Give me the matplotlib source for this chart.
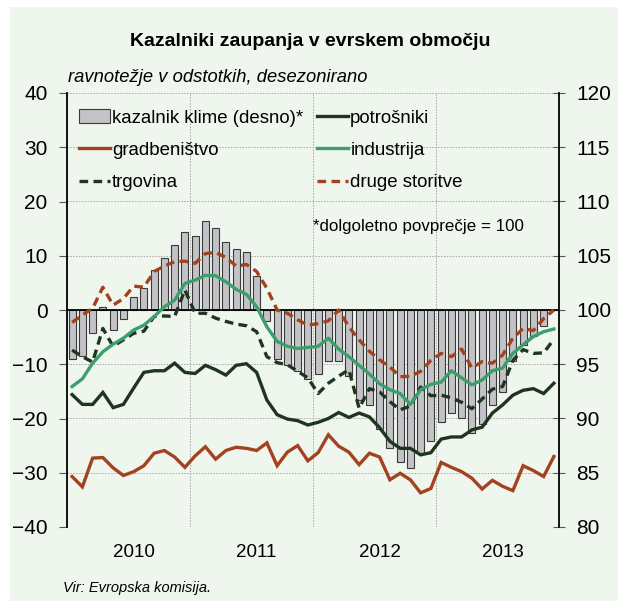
import matplotlib
matplotlib.use('Agg')
import matplotlib.pyplot as plt
from matplotlib import font_manager as fm
from matplotlib.patches import Rectangle
from matplotlib.lines import Line2D
import numpy as np

names = {f.name for f in fm.fontManager.ttflist}
FONT = 'Liberation Sans Narrow' if 'Liberation Sans Narrow' in names else 'Liberation Sans'
plt.rcParams['font.family'] = [FONT, 'DejaVu Sans']

# ---------------- data ----------------
years = ['2010', '2011', '2012', '2013']
n_months = 48

klima = [95.5, 95.8, 97.9, 100.3, 98.2, 99.2, 101.2, 102.0, 103.7, 104.75, 105.95, 107.2,
         106.8, 108.2, 107.6, 106.3, 105.6, 105.3, 103.1, 98.95, 95.5, 94.9, 94.4, 93.6,
         94.1, 95.3, 95.3, 93.9, 91.7, 91.2, 89.0, 87.3, 86.0, 85.4, 86.8, 87.9,
         89.7, 90.5, 90.0, 88.7, 89.5, 91.2, 92.4, 95.3, 96.8, 97.6, 98.5]

potrosniki = [-15.6, -17.4, -17.4, -15.2, -18.0, -17.4, -14.4, -11.5, -11.2, -11.2, -9.8, -11.5,
              -11.7, -10.2, -11.0, -12.0, -10.2, -9.9, -11.5, -16.6, -19.3, -20.1, -20.4, -21.2,
              -20.7, -20.0, -18.9, -19.8, -19.0, -19.7, -21.7, -24.2, -25.5, -25.5, -26.7, -26.3,
              -23.8, -23.4, -23.4, -22.1, -21.6, -19.0, -17.5, -15.7, -14.8, -14.5, -15.4, -13.5]

gradbenistvo = [-30.7, -32.6, -27.3, -27.2, -29.1, -30.5, -29.8, -28.7, -26.4, -25.9, -27.1, -29.0,
                -26.9, -25.2, -27.5, -25.9, -25.3, -25.5, -25.9, -24.5, -28.7, -26.2, -25.0, -27.8,
                -26.3, -23.0, -25.1, -26.2, -28.5, -26.4, -27.1, -31.3, -30.1, -31.3, -33.7, -32.9,
                -28.1, -29.0, -29.8, -31.0, -33.0, -31.4, -32.5, -33.3, -28.7, -29.6, -30.7, -27.0]

industrija = [-14.1, -12.7, -9.8, -7.7, -6.3, -5.2, -3.7, -2.8, -1.2, 0.6, 1.8, 4.9,
              5.5, 6.4, 6.3, 5.2, 3.8, 2.9, 0.6, -3.1, -5.8, -6.7, -7.1, -6.9,
              -6.7, -5.2, -7.2, -8.6, -10.2, -11.8, -13.6, -14.7, -15.4, -17.4, -14.7, -13.7,
              -13.3, -11.2, -12.5, -13.8, -12.9, -11.2, -10.7, -8.0, -6.4, -4.9, -4.0, -3.5]

trgovina = [-7.4, -8.6, -9.6, -3.4, -6.7, -5.5, -4.3, -3.9, -1.2, -1.1, -1.2, 3.7,
            -0.6, -0.6, -1.5, -2.1, -2.6, -2.9, -4.0, -8.6, -9.7, -10.1, -11.3, -12.5,
            -15.4, -13.5, -12.2, -11.0, -18.1, -14.5, -15.1, -16.9, -18.4, -17.7, -14.2, -15.8,
            -15.7, -16.2, -17.0, -18.2, -16.4, -14.6, -14.1, -9.3, -7.3, -8.0, -7.9, -5.4]

druge = [-2.3, -0.9, 0.3, 4.2, 0.9, 2.1, 4.4, 4.2, 7.1, 8.1, 8.9, 9.0,
         8.6, 10.4, 10.6, 9.7, 8.1, 8.4, 7.1, 4.0, 0.0, -0.6, -1.8, -2.8,
         -2.5, -2.0, 0.0, -3.1, -5.5, -7.6, -9.2, -10.5, -12.3, -12.2, -11.3, -9.3,
         -8.0, -8.6, -7.2, -10.7, -9.5, -9.8, -8.3, -5.2, -3.4, -3.8, -1.6, 0.0]

labels = ['kazalnik klime (desno)*', 'gradbeništvo', 'trgovina',
          'potrošniki', 'industrija', 'druge storitve']

# ---------------- style ----------------
BG = '#eff6ee'
C_BAR = '#c3c3c7'
C_BAR_EDGE = '#3a3a3a'
C_RED = '#a3421f'
C_DARK = '#1f3520'
C_GREEN = '#3c9e6c'
LW = 2.4
DASH = (2.6, 1.6)

W, H = 618, 601
fig = plt.figure(figsize=(W / 100, H / 100), dpi=100, facecolor='white')
fig.patches.append(Rectangle((10 / W, 0), 1, 1 - 7 / H, transform=fig.transFigure,
                             facecolor=BG, edgecolor='none', zorder=-10))

left, right, top, bottom = 67, 559, 93, 527
axL = fig.add_axes([left / W, 1 - bottom / H, (right - left) / W, (bottom - top) / H])
axR = axL.twinx()
axL.set_zorder(axR.get_zorder() + 1)
axL.patch.set_visible(False)
axR.patch.set_visible(True)
axR.patch.set_facecolor(BG)

x = np.arange(n_months)

# bars (right axis), from 100 baseline
kx = x[:len(klima)]
axR.bar(kx, np.array(klima) - 100, bottom=100, width=0.68, color=C_BAR,
        edgecolor=C_BAR_EDGE, linewidth=0.8, zorder=2)
axR.set_ylim(80, 120)
axR.set_yticks(np.arange(80, 121, 5))
axR.grid(axis='y', color='#a5a5a5', linestyle=(0, (1.5, 1.5)), linewidth=0.7, zorder=0)
axR.set_axisbelow(True)
for yb in np.arange(12, n_months, 12) - 0.5:
    axR.axvline(yb, color='#a5a5a5', linestyle=(0, (1.5, 1.5)), linewidth=0.7, zorder=1)

# lines (left axis)
axL.axhline(0, color='black', linewidth=1.3, zorder=1)
axL.plot(x, gradbenistvo, color=C_RED, lw=LW, zorder=3, solid_joinstyle='miter')
axL.plot(x, trgovina, color=C_DARK, lw=LW, dashes=DASH, zorder=3)
axL.plot(x, potrosniki, color=C_DARK, lw=LW, zorder=3, solid_joinstyle='miter')
axL.plot(x, industrija, color=C_GREEN, lw=LW, zorder=3)
axL.plot(x, druge, color=C_RED, lw=LW, dashes=DASH, zorder=3)

axL.set_xlim(-0.5, n_months - 0.5)
axL.set_ylim(-40, 40)
axL.set_yticks(np.arange(-40, 41, 10))
axL.set_xticks(np.arange(6, n_months, 12))
axL.set_xticklabels(years)

for ax in (axL, axR):
    for s in ax.spines.values():
        s.set_visible(False)
axL.spines['left'].set_visible(True)
axL.spines['left'].set_linewidth(1.3)
axR.spines['right'].set_visible(True)
axR.spines['right'].set_linewidth(1.3)

FS = 15
axL.tick_params(axis='y', direction='out', length=6, width=0.8, color='#555555',
                labelsize=FS, pad=8)
axL.tick_params(axis='x', length=0, labelsize=13.5, pad=12)
axR.tick_params(axis='y', direction='inout', length=9, width=0.8, color='#555555',
                labelsize=FS, pad=8)

# legend
LFS = 13.4
h_bar = Rectangle((0, 0), 1, 1, facecolor=C_BAR, edgecolor=C_BAR_EDGE, linewidth=0.8)
h_gr = Line2D([], [], color=C_RED, lw=LW)
h_tr = Line2D([], [], color=C_DARK, lw=LW, dashes=DASH)
h_po = Line2D([], [], color=C_DARK, lw=LW)
h_in = Line2D([], [], color=C_GREEN, lw=LW)
h_dr = Line2D([], [], color=C_RED, lw=LW, dashes=DASH)
leg = axL.legend([h_bar, h_gr, h_tr, h_po, h_in, h_dr], labels, ncol=2,
                 loc='upper left', bbox_to_anchor=(0.025, 0.962), frameon=False,
                 fontsize=LFS, handlelength=1.65, handleheight=0.7,
                 handletextpad=0.12, labelspacing=0.82, columnspacing=0.75,
                 borderaxespad=0, borderpad=0)

fig.text(313 / W, 1 - 227 / H, '*dolgoletno povprečje = 100', ha='left', va='center',
         fontsize=12.2)

fig.text(310 / W, 1 - 42 / H, 'Kazalniki zaupanja v evrskem območju', ha='center',
         va='center', fontsize=14, fontweight='bold')
fig.text(68 / W, 1 - 78 / H, 'ravnotežje v odstotkih, desezonirano', ha='left',
         va='center', fontsize=13.2, style='italic')
fig.text(63 / W, 1 - 588 / H, 'Vir: Evropska komisija.', ha='left', va='center',
         fontsize=10.5, style='italic')

fig.savefig('out.png', dpi=100, facecolor=fig.get_facecolor())
